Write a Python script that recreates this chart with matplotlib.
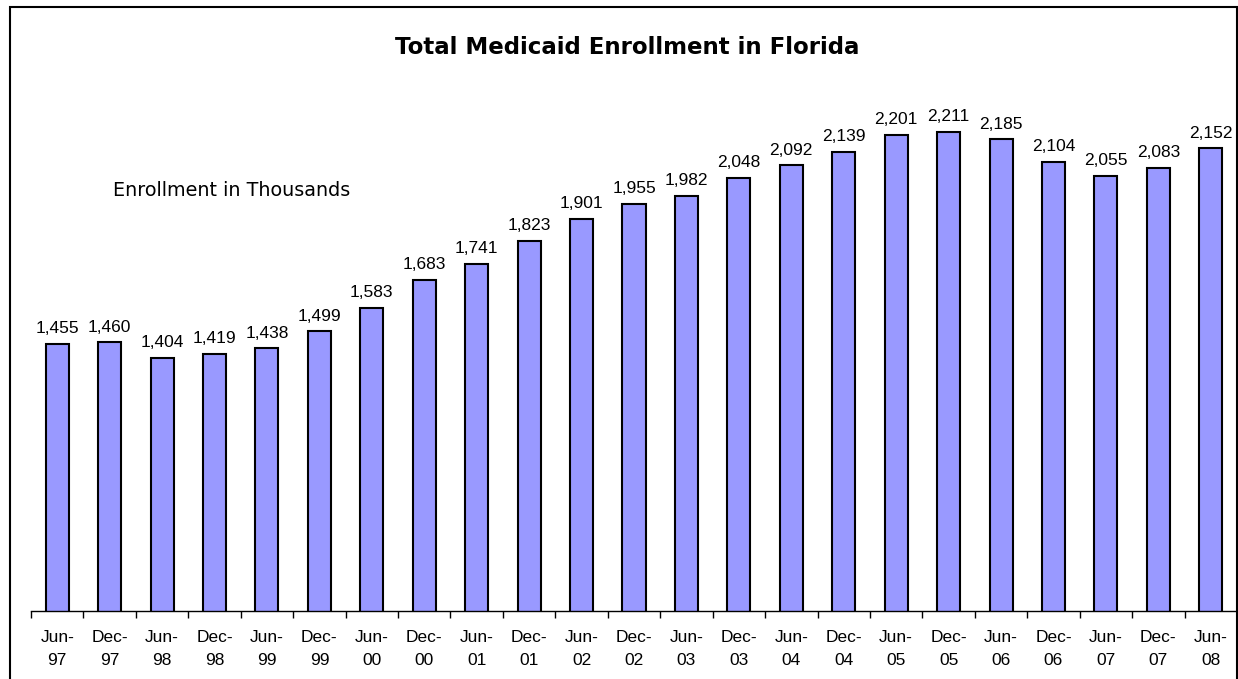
import matplotlib
matplotlib.use("Agg")
import matplotlib.pyplot as plt
from matplotlib.patches import Rectangle

plt.rcParams['font.family'] = ['Liberation Sans', 'DejaVu Sans']

categories = ["Jun-\n97", "Dec-\n97", "Jun-\n98", "Dec-\n98", "Jun-\n99", "Dec-\n99",
              "Jun-\n00", "Dec-\n00", "Jun-\n01", "Dec-\n01", "Jun-\n02", "Dec-\n02",
              "Jun-\n03", "Dec-\n03", "Jun-\n04", "Dec-\n04", "Jun-\n05", "Dec-\n05",
              "Jun-\n06", "Dec-\n06", "Jun-\n07", "Dec-\n07", "Jun-\n08"]
enrollment = [1455, 1460, 1404, 1419, 1438, 1499, 1583, 1683, 1741, 1823, 1901, 1955,
              1982, 2048, 2092, 2139, 2201, 2211, 2185, 2104, 2055, 2083, 2152]

W, H = 1238, 679
fig = plt.figure(figsize=(W / 100, H / 100), dpi=100)

# outer chart frame
frame = Rectangle((10 / W, -0.05), (1237 - 10) / W, 1.05 - 7 / H,
                  transform=fig.transFigure, fill=False, edgecolor='black',
                  linewidth=1.5, clip_on=False)
fig.patches.append(frame)

ax_l, ax_r, ax_t, ax_b = 31, 1237, 51, 611
ax = fig.add_axes([ax_l / W, 1 - ax_b / H, (ax_r - ax_l) / W, (ax_b - ax_t) / H])

x = list(range(len(categories)))
bars = ax.bar(x, enrollment, width=0.44, bottom=0, color='#9999FF',
              edgecolor='black', linewidth=1.5, zorder=2)
ax.set_ylim(500, 2500)
ax.set_xlim(-0.5, len(categories) - 0.5)

for xi, v in zip(x, enrollment):
    ax.annotate(f"{v:,}", (xi, v), xytext=(0, 5.5), textcoords='offset points',
                ha='center', va='bottom', fontsize=12.5, color='black')

for s in ['top', 'right', 'left']:
    ax.spines[s].set_visible(False)
ax.spines['bottom'].set_linewidth(1.0)
ax.set_yticks([])

ax.set_xticks(x)
ax.set_xticklabels(categories, fontsize=12.5, linespacing=1.6)
ax.tick_params(axis='x', which='major', length=0, pad=14)
ax.set_xticks([i - 0.5 for i in range(len(categories) + 1)], minor=True)
ax.tick_params(axis='x', which='minor', length=5, width=1.0, direction='out')

fig.text((393 + 862) / 2 / W, 1 - 47 / H, "Total Medicaid Enrollment in Florida",
         ha='center', va='center', fontsize=16.5, fontweight='bold',
         family=['DejaVu Sans'])
fig.text(113 / W, 1 - 190 / H, "Enrollment in Thousands", ha='left', va='center',
         fontsize=13.8, family=['DejaVu Sans'])

fig.savefig("out.png", dpi=100)
